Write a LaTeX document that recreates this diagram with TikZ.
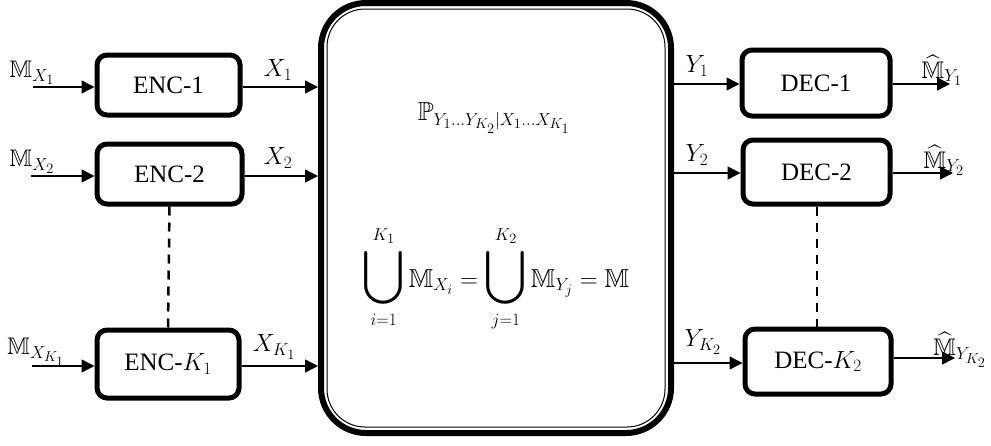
\documentclass[tikz,border=0pt]{standalone}
\usepackage{amsmath,amssymb}
\usepackage{fontspec}
\setmainfont{Liberation Serif}
\usetikzlibrary{arrows.meta}
\DeclareMathSizes{24}{24}{18}{14}
\DeclareMathSizes{26}{26}{19}{15}
\newcommand{\bigU}{\mathop{\raisebox{0pt}[\dimexpr\height+1pt\relax][\dimexpr\depth+2pt\relax]{\scalebox{1.45}{$\displaystyle\bigcup$}}}}
\begin{document}
\begin{tikzpicture}[x=1pt,y=-1pt,
  blk/.style={draw,line width=5pt,rounded corners=10pt,inner sep=0pt,font=\fontsize{25}{30}\selectfont},
  arr/.style={line width=1.5pt,-{Triangle[length=13pt,width=13pt]}},
  dsh/.style={line width=2.5pt,dash pattern=on 9pt off 7pt},
  lbl/.style={inner sep=0pt,font=\fontsize{24}{28}\selectfont},
  eq/.style={inner sep=0pt,font=\fontsize{26}{30}\selectfont}]
\useasboundingbox (0,0) rectangle (991,445);
% central channel
\node[draw,line width=6pt,rounded corners=45pt,minimum width=350pt,minimum height=430pt,inner sep=0pt] (ch) at (496,218) {};
\draw[line width=1pt,rounded corners=38pt] ([xshift=9pt,yshift=-9pt]ch.north west) rectangle ([xshift=-9pt,yshift=9pt]ch.south east);
\node[eq] (pl) at (494,118) {$\mathbb{P}_{Y_1\ldots Y_{K_2}|X_1\ldots X_{K_1}}$};
\node[eq] (un) at (496,279) {$\displaystyle \bigU_{i=1}^{K_1}\mathbb{M}_{X_i}=\bigU_{j=1}^{K_2}\mathbb{M}_{Y_j}=\mathbb{M}$};
% encoders
\node[blk,minimum width=143pt,minimum height=60pt] (e1) at (168.5,85) {ENC-1};
\node[blk,minimum width=145pt,minimum height=60pt] (e2) at (169.5,174) {ENC-2};
\node[blk,minimum width=142pt,minimum height=68pt] (ek) at (168,364) {ENC-$K_1$};
% decoders
\node[blk,minimum width=148pt,minimum height=66pt] (d1) at (816,83) {DEC-1};
\node[blk,minimum width=147pt,minimum height=64pt] (d2) at (816.5,172) {DEC-2};
\node[blk,minimum width=146pt,minimum height=65pt] (dk) at (818,361.5) {DEC-$K_2$};
% free ends
\coordinate (i1) at (33,87);
\coordinate (i2) at (31,176);
\coordinate (ik) at (32,366);
\coordinate (o1) at (950,84);
\coordinate (o2) at (953,173);
\coordinate (ok) at (955,358);
% arrows
\draw[arr] (i1) -- (e1.west |- i1);
\draw[arr] (i2) -- (e2.west |- i2);
\draw[arr] (ik) -- (ek.west |- ik);
\draw[arr] (e1.east |- i1) -- (ch.west |- i1);
\draw[arr] (e2.east |- i2) -- (ch.west |- i2);
\draw[arr] (ek.east |- ik) -- (ch.west |- ik);
\draw[arr] (ch.east |- o1) -- (d1.west |- o1);
\draw[arr] (ch.east |- o2) -- (d2.west |- o2);
\draw[arr] (ch.east |- 0,363) -- (dk.west |- 0,363);
\draw[arr] (d1.east |- o1) -- (o1);
\draw[arr] (d2.east |- o2) -- (o2);
\draw[arr] (dk.east |- ok) -- (ok);
% dashed
\draw[dsh] (e2.south) -- (ek.north);
\draw[dsh] (d2.south -| 817,0) -- (dk.north -| 817,0);
% labels
\node[lbl] (l1) at (32,73) {$\mathbb{M}_{X_1}$};
\node[lbl] (l2) at (32,162) {$\mathbb{M}_{X_2}$};
\node[lbl] (lk) at (36,352) {$\mathbb{M}_{X_{K_1}}$};
\node[lbl] (x1) at (278,70) {$X_1$};
\node[lbl] (x2) at (278,158) {$X_2$};
\node[lbl] (xk) at (274,347) {$X_{K_1}$};
\node[lbl] (y1) at (697,66) {$Y_1$};
\node[lbl] (y2) at (697,155) {$Y_2$};
\node[lbl] (yk) at (703,342) {$Y_{K_2}$};
\node[lbl] (m1) at (942,70) {$\widehat{\mathbb{M}}_{Y_1}$};
\node[lbl] (m2) at (944,160) {$\widehat{\mathbb{M}}_{Y_2}$};
\node[lbl] (mk) at (960,350) {$\widehat{\mathbb{M}}_{Y_{K_2}}$};
\end{tikzpicture}
\end{document}
